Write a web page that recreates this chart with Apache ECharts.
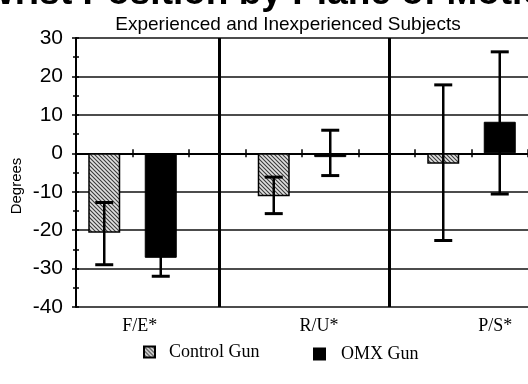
<!DOCTYPE html>
<html><head><meta charset="utf-8">
<script src="https://cdn.jsdelivr.net/npm/echarts@6/dist/echarts.min.js"></script>
<style>html,body{margin:0;padding:0;background:#fff}#c{width:528px;height:384px}</style>
</head><body><div id="c"></div>
<script>
// ---- data ----
const categories = ['F/E*', 'R/U*', 'P/S*'];
const seriesNames = ['Control Gun', 'OMX Gun'];
const controlMean = [-20.7, -11.2, -2.7];
const controlLow  = [-29, -15.7, -22.7];
const controlHigh = [-12.8, -6.2, 17.8];
const omxMean = [-27.2, -1, 8.2];
const omxLow  = [-32, -5.8, -10.6];
const omxHigh = [-22.4, 6.0, 26.4];
const yTickLabels = ['-40', '-30', '-20', '-10', '0', '10', '20', '30'];

// ---- layout helpers ----
const groupCenter = i => 1 + 3 * i;          // x-axis slot of each category group
const labelAt = [1.13, 4.30, 7.42];          // where the category text sits
const dividers = [2.54, 5.55];               // vertical group separators

function hatch() {
  const c = document.createElement('canvas');
  c.width = 4; c.height = 4;
  const g = c.getContext('2d');
  g.fillStyle = '#e0e0e0'; g.fillRect(0, 0, 4, 4);
  g.strokeStyle = '#3a3a3a'; g.lineWidth = 1.1;
  g.beginPath();
  g.moveTo(-1, -1); g.lineTo(5, 5);
  g.moveTo(-1, 3); g.lineTo(1, 5);
  g.moveTo(3, -1); g.lineTo(5, 1);
  g.stroke();
  return c;
}
const hatchFill = { image: hatch(), repeat: 'repeat' };

function renderErr(params, api) {
  const x = api.value(0);
  const lo = api.coord([x, api.value(1)]);
  const hi = api.coord([x, api.value(2)]);
  const hw = 9;
  return { type: 'group', children: [
    { type: 'line', shape: { x1: lo[0], y1: lo[1], x2: hi[0], y2: hi[1] }, style: { stroke: '#000', lineWidth: 2.5 } },
    { type: 'line', shape: { x1: lo[0] - hw, y1: lo[1], x2: lo[0] + hw, y2: lo[1] }, style: { stroke: '#000', lineWidth: 3 } },
    { type: 'line', shape: { x1: hi[0] - hw, y1: hi[1], x2: hi[0] + hw, y2: hi[1] }, style: { stroke: '#000', lineWidth: 3 } }
  ]};
}

const chart = echarts.init(document.getElementById('c'), null, { renderer: 'canvas' });
const serif = 'Liberation Serif';
const sans = 'Liberation Sans';

chart.setOption({
  animation: false,
  backgroundColor: '#fff',
  title: [
    { text: 'Wrist Position by Plane of Motion', left: 269, textAlign: 'center', top: -30,
      textStyle: { fontFamily: sans, fontWeight: 'bold', fontSize: 37, color: '#000' } },
    { text: 'Experienced and Inexperienced Subjects', left: 283, textAlign: 'center', top: 10,
      textStyle: { fontFamily: sans, fontWeight: 'normal', fontSize: 19, color: '#000' } }
  ],
  legend: [
    { data: [seriesNames[0]], left: 143, top: 343, padding: 0, itemWidth: 11, itemHeight: 11, icon: 'rect',
      textStyle: { fontFamily: serif, fontSize: 18, color: '#000', padding: [0, 0, 0, 9] } },
    { data: [seriesNames[1]], left: 313, top: 345, padding: 0, itemWidth: 11, itemHeight: 11, icon: 'rect',
      textStyle: { fontFamily: serif, fontSize: 18, color: '#000', padding: [0, 0, 0, 11] } }
  ],
  graphic: [
    { type: 'text', x: 17, y: 186, rotation: Math.PI / 2,
      style: { text: 'Degrees', font: '15px "Liberation Sans"', fill: '#000', textAlign: 'center', textVerticalAlign: 'middle' } }
  ],
  grid: { left: 76, right: -2, top: 38, bottom: 77 },
  xAxis: [
    { type: 'value', min: 0, max: 8, interval: 1,
      axisLine: { lineStyle: { color: '#000', width: 2 } },
      axisTick: { show: true, length: 4, lineStyle: { color: '#000', width: 1.5 }, customValues: [0,1,2,3,4,5,6,7,8] },
      splitLine: { show: false },
      axisLabel: { customValues: labelAt, margin: 10, fontFamily: serif, fontSize: 18, color: '#000',
        formatter: v => { const i = labelAt.indexOf(v); return i >= 0 ? categories[i] : ''; } } },
    { type: 'value', min: 0, max: 8, interval: 1, position: 'bottom',
      axisLine: { show: false },
      axisTick: { show: true, inside: true, length: 4, lineStyle: { color: '#000', width: 1.5 } },
      splitLine: { show: false }, axisLabel: { show: false } }
  ],
  yAxis: [
    { type: 'value', min: -40, max: 30, interval: 10,
      axisLine: { show: true, lineStyle: { color: '#000', width: 2 } },
      axisTick: { show: true, length: 4, lineStyle: { color: '#000', width: 1.5 } },
      minorTick: { show: true, splitNumber: 2, length: 3, lineStyle: { color: '#000', width: 1.5 } },
      splitLine: { show: true, lineStyle: { color: '#111', width: 1.5 } },
      axisLabel: { margin: 13, fontFamily: sans, fontSize: 21, color: '#000',
        formatter: v => yTickLabels[Math.round((v + 40) / 10)] } },
    { type: 'value', min: -40, max: 30, interval: 10, position: 'left',
      axisLine: { show: false },
      axisTick: { show: true, inside: true, length: 3, lineStyle: { color: '#000', width: 1.5 } },
      minorTick: { show: true, splitNumber: 2, length: 3, lineStyle: { color: '#000', width: 1.5 } },
      splitLine: { show: false }, axisLabel: { show: false } }
  ],
  series: [
    { name: seriesNames[0], type: 'bar', barWidth: 32, barGap: '-100%',
      itemStyle: { color: hatchFill, borderColor: '#000', borderWidth: 1.5 },
      data: controlMean.map((v, i) => [groupCenter(i) - 0.5, v]), z: 3,
      markLine: { silent: true, symbol: 'none', label: { show: false },
        lineStyle: { color: '#000', width: 3, type: 'solid' },
        data: dividers.map(d => ({ xAxis: d })) } },
    { name: seriesNames[1], type: 'bar', barWidth: 32, barGap: '-100%',
      itemStyle: { color: '#000', borderColor: '#000', borderWidth: 1 },
      data: omxMean.map((v, i) => [groupCenter(i) + 0.5, v]), z: 3 },
    { name: 'errControl', type: 'custom', renderItem: renderErr, z: 5,
      data: controlMean.map((v, i) => [groupCenter(i) - 0.5, controlLow[i], controlHigh[i]]) },
    { name: 'errOmx', type: 'custom', renderItem: renderErr, z: 5,
      data: omxMean.map((v, i) => [groupCenter(i) + 0.5, omxLow[i], omxHigh[i]]) }
  ]
});
</script>
</body></html>
